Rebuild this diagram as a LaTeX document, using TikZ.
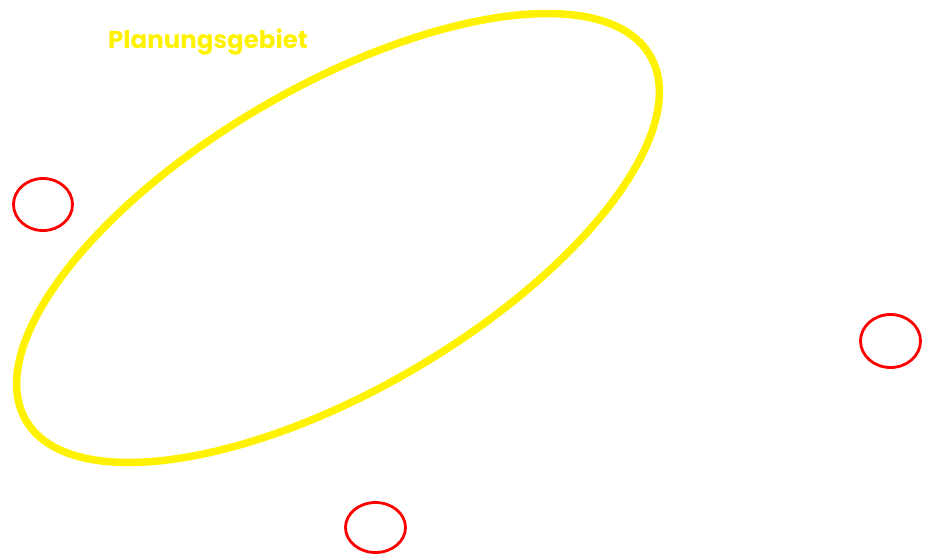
\documentclass[tikz,border=0pt]{standalone}
\usepackage{fontspec}
\setmainfont{Poppins}
\usetikzlibrary{shapes.geometric}
\begin{document}
\begin{tikzpicture}[x=1pt,y=-1pt,
  area/.style={draw=yellow,line width=7.5pt,ellipse,inner sep=0pt,minimum width=723pt,minimum height=303pt},
  mark circle/.style={draw=red,line width=2.8pt,ellipse,inner sep=0pt},
  label text/.style={text=yellow,font=\fontsize{24.5}{28}\selectfont\bfseries,inner sep=0pt}]
\useasboundingbox[fill=white] (0,0) rectangle (926,555);
\node[area,rotate=30.3] (gebiet) at (338,238) {};
\node[label text] (title) at (208,42) {Planungsgebiet};
\node[mark circle,minimum width=59pt,minimum height=52pt] (c1) at (43,204.5) {};
\node[mark circle,minimum width=60pt,minimum height=53pt] (c2) at (890.5,341) {};
\node[mark circle,minimum width=60pt,minimum height=50pt] (c3) at (375.5,527.5) {};
\end{tikzpicture}
\end{document}
